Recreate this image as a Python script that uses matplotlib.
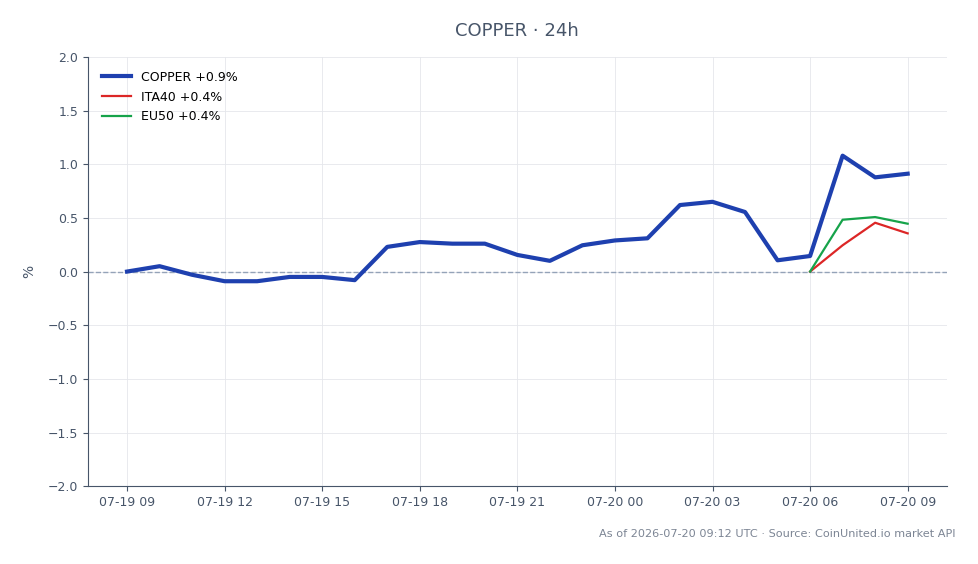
import pandas as pd
import matplotlib
matplotlib.use("Agg")
import matplotlib.pyplot as plt
import matplotlib.dates as mdates

# hourly timestamps, 07-19 09:00 -> 07-20 09:00
times = pd.date_range("2026-07-19 09:00", "2026-07-20 09:00", freq="h")

copper = [0.00, 0.05, -0.03, -0.09, -0.09, -0.05, -0.05, -0.08, 0.23, 0.275,
          0.26, 0.26, 0.155, 0.10, 0.245, 0.29, 0.31, 0.62, 0.65, 0.555,
          0.105, 0.145, 1.08, 0.878, 0.912]
ita40 = [0.00, 0.245, 0.455, 0.356]
eu50 = [0.00, 0.483, 0.508, 0.446]
idx_times = times[-4:]

slate = "#475569"

fig = plt.figure(figsize=(9.79, 5.64), dpi=100)
ax = fig.add_axes([0.0899, 0.138, 0.8771, 0.761])

ax.axhline(0, color="#94a3b8", lw=1, ls="--", zorder=1)
ax.plot(times, copper, color="#1e40af", lw=3, label="COPPER +0.9%", zorder=3)
ax.plot(idx_times, ita40, color="#dc2626", lw=1.6, label="ITA40 +0.4%", zorder=2)
ax.plot(idx_times, eu50, color="#16a34a", lw=1.6, label="EU50 +0.4%", zorder=2)

ax.set_ylim(-2, 2)
ax.set_yticks([-2, -1.5, -1, -0.5, 0, 0.5, 1, 1.5, 2])
ax.yaxis.set_major_formatter(plt.FuncFormatter(lambda v, p: f"{v:.1f}".replace("-", "\u2212")))
ax.xaxis.set_major_locator(mdates.HourLocator(byhour=range(0, 24, 3)))
ax.xaxis.set_major_formatter(mdates.DateFormatter("%m-%d %H"))

ax.grid(True, color="#e5e7eb", lw=0.6)
ax.set_axisbelow(True)
for s in ["top", "right"]:
    ax.spines[s].set_visible(False)
for s in ["left", "bottom"]:
    ax.spines[s].set_color(slate)
ax.tick_params(colors=slate, labelsize=9, labelcolor=slate)
ax.set_ylabel("%", color=slate, fontsize=10, labelpad=8)

ax.set_title("COPPER · 24h", color=slate, fontsize=13, pad=15)
ax.legend(loc="upper left", frameon=False, fontsize=9, handlelength=2.3,
          labelspacing=0.55, borderaxespad=0.7)

fig.text(0.976, 0.045, "As of 2026-07-20 09:12 UTC · Source: CoinUnited.io market API",
         ha="right", va="bottom", fontsize=8.1, color="#7c8594")

fig.savefig("out.png", dpi=100)
